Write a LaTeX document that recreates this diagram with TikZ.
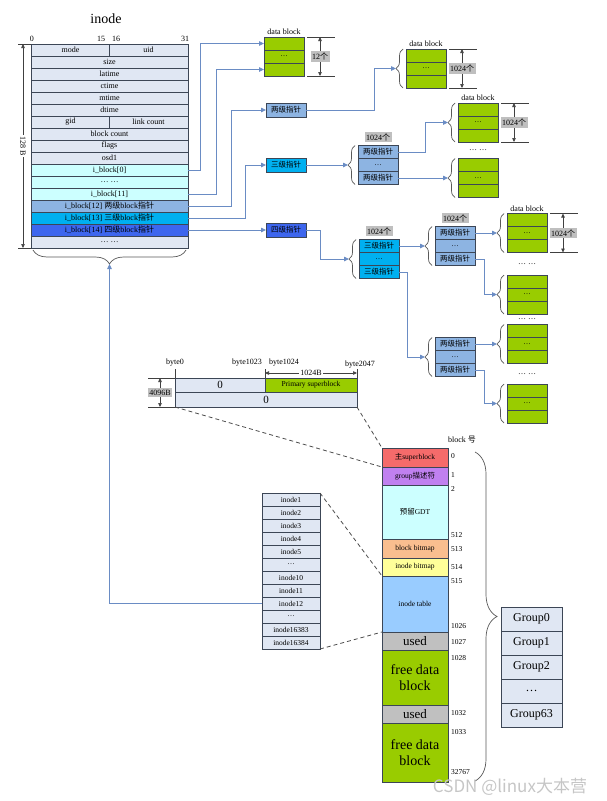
\documentclass[tikz,border=0pt]{standalone}
\usepackage{fontspec}
\setmainfont{Liberation Serif}
\newfontfamily\cjk{Noto Sans CJK SC}
\usepackage{tikz}
\usetikzlibrary{arrows.meta, calc, positioning, decorations.pathreplacing}
\usepackage{xcolor}

\definecolor{lav}{HTML}{E0E7F3}
\definecolor{icy}{HTML}{CCFFFF}
\definecolor{lb}{HTML}{8DB4E2}
\definecolor{cy}{HTML}{00B0F0}
\definecolor{dkb}{HTML}{3D66EE}
\definecolor{grn}{HTML}{99CC00}
\definecolor{edge}{HTML}{3C4656}
\definecolor{linkc}{HTML}{6A8CC4}
\definecolor{cntgray}{HTML}{BFBFBF}
\definecolor{supred}{HTML}{F56B6B}
\definecolor{gpurp}{HTML}{C080F0}
\definecolor{borange}{HTML}{F9BE8F}
\definecolor{iyellow}{HTML}{FFFF99}
\definecolor{itblue}{HTML}{99CCFF}
\definecolor{ugray}{HTML}{C0C0C0}

\begin{document}
\begin{tikzpicture}[x=1pt, y=-1pt,
    row/.style={draw=edge, line width=0.7pt, fill=lav, minimum width=157pt, minimum height=12pt, inner sep=0pt, outer sep=0pt, font=\fontsize{8}{9}\selectfont},
    cell/.style={draw=edge, line width=0.7pt, minimum width=40pt, minimum height=13pt, inner sep=0pt, outer sep=0pt, font=\fontsize{7.5}{8}\selectfont},
    gcell/.style={cell, fill=grn},
    pbox/.style={cell, minimum height=14pt},
    lbl/.style={inner sep=1pt, font=\fontsize{8}{9}\selectfont},
    cnt/.style={fill=cntgray, inner sep=1.5pt, font=\fontsize{8}{9}\selectfont},
    link/.style={draw=linkc, line width=0.8pt, -{Triangle[length=5pt, width=4.5pt]}},
    dimline/.style={draw=black!75, line width=0.6pt},
    dimarr/.style={draw=black!75, line width=0.6pt, {Triangle[length=4pt, width=3.5pt]}-{Triangle[length=4pt, width=3.5pt]}},
    lbrace/.style={draw=black!65, line width=0.7pt, decorate, decoration={brace, amplitude=7pt}},
    dashln/.style={draw=black!70, line width=0.8pt, dash pattern=on 4pt off 3pt},
    bcell/.style={draw=edge, line width=0.7pt, minimum width=66pt, inner sep=0pt, outer sep=0pt, align=center},
    num/.style={anchor=west, inner sep=0pt, font=\fontsize{7.5}{8}\selectfont}]

    \useasboundingbox (0,0) rectangle (606,801);

    % inode 结构
    \node[font=\fontsize{14}{14}\selectfont] (ttl) at (106,19) {inode};
    \node[lbl] (b0) at (32,39) {0};
    \node[lbl] (b15) at (101,39) {15};
    \node[lbl] (b16) at (116,39) {16};
    \node[lbl] (b31) at (185,39) {31};
    \foreach \t/\c [count=\i] in {{}/lav, size/lav, latime/lav, ctime/lav, mtime/lav, dtime/lav, {}/lav,
        block count/lav, flags/lav, osd1/lav, i\_block[0]/icy, \ldots\ \ldots/icy, i\_block[11]/icy,
        {i\_block[12] {\cjk 两级}block{\cjk 指针}}/lb, {i\_block[13] {\cjk 三级}block{\cjk 指针}}/cy,
        {i\_block[14] {\cjk 四级}block{\cjk 指针}}/dkb, \ldots\ \ldots/lav}
        \node[row, fill=\c] (r\i) at (109.5, 38+12*\i) {\t};
    \draw[edge, line width=0.7pt] (r1.north) -- (r1.south);
    \draw[edge, line width=0.7pt] (r7.north) -- (r7.south);
    \node[lbl] (mode) at ($(r1.center)+(-39,0)$) {mode};
    \node[lbl] (uid) at ($(r1.center)+(39,0)$) {uid};
    \node[lbl] (gid) at ($(r7.center)+(-39,0)$) {gid};
    \node[lbl] (lcount) at ($(r7.center)+(39,0)$) {link count};

    % 128 B
    \draw[dimline] (r1.north west) -- ++(-13,0);
    \draw[dimline] (r17.south west) -- ++(-13,0);
    \draw[dimarr] ([xshift=-8pt]r1.north west) -- ([xshift=-8pt]r17.south west)
        node[midway, rotate=-90, fill=white, lbl] {128 B};
    \draw[draw=black!65, line width=0.7pt, decorate, decoration={brace, amplitude=14pt, mirror}]
        ([xshift=2pt, yshift=-2pt]r17.south west) -- ([xshift=-2pt, yshift=-2pt]r17.south east);
    \coordinate (ttip) at ([yshift=-16pt]r17.south);

    % 指针
    \node[pbox, fill=lb] (lvl2) at (286,110) {\cjk 两级指针};
    \node[pbox, fill=cy] (lvl3) at (286,165) {\cjk 三级指针};
    \node[pbox, fill=dkb] (lvl4) at (286,230) {\cjk 四级指针};

    % data block
    \foreach \n/\x/\y in {A/284/56.5, B/426/68.5, C/478/122.5, D/478/178, E/527/233, F/527/294.5, G/527/344, H/527/403.5} {
        \node[gcell] (\n2) at (\x,\y) {\ldots};
        \node[gcell, above=0pt of \n2] (\n1) {};
        \node[gcell, below=0pt of \n2] (\n3) {};
    }
    \foreach \n/\x/\y/\c/\t in {P/378/165/lb/{\cjk 两级指针}, Q/379/259/cy/{\cjk 三级指针}, R/455/246/lb/{\cjk 两级指针}, S/455/357/lb/{\cjk 两级指针}} {
        \node[cell, fill=\c] (\n2) at (\x,\y) {\ldots};
        \node[cell, fill=\c, above=0pt of \n2] (\n1) {\t};
        \node[cell, fill=\c, below=0pt of \n2] (\n3) {\t};
    }
    \foreach \n in {B, C, D, E, F, G, H, P, Q, R, S} {
        \draw[lbrace] ([xshift=-3pt]\n3.south west) -- ([xshift=-3pt]\n1.north west);
        \coordinate (t\n) at ([xshift=-10pt]\n2.west);
    }
    \foreach \n in {A, B, C, E}
        \node[lbl, above=1pt of \n1] (lbl\n) {data block};
    \foreach \n in {P, Q, R}
        \node[cnt, above=3pt of \n1] (cnt\n) {1024{\cjk 个}};
    \foreach \n/\k in {A/12, B/1024, C/1024, E/1024} {
        \draw[dimline] ([xshift=3pt]\n1.north east) -- ++(28,0);
        \draw[dimline] ([xshift=3pt]\n3.south east) -- ++(28,0);
        \draw[dimarr] ([xshift=16pt]\n1.north east) -- ([xshift=16pt]\n3.south east)
            node[midway, cnt] {\k{\cjk 个}};
    }
    \node[lbl] (dots1) at (478,150) {\ldots\ \ldots};
    \node[lbl] (dots2) at (527,264) {\ldots\ \ldots};
    \node[lbl] (dots3) at (527,319) {\ldots\ \ldots};
    \node[lbl] (dots4) at (527,374) {\ldots\ \ldots};

    % 连线
    \draw[link] (r11.east) -- ++(12,0) |- (A1.west);
    \draw[link] (r13.east) -- ++(28,0) |- (A3.west);
    \draw[link] (r14.east) -- ++(43,0) |- (lvl2.west);
    \draw[link] (r15.east) -- ++(57,0) |- (lvl3.west);
    \draw[link] (r16.east) -- (lvl4.west);
    \draw[link] (lvl2.east) -- ++(68,0) |- (tB);
    \draw[link] (lvl3.east) -- (tP);
    \draw[link] (lvl4.east) -- ++(14,0) |- (tQ);
    \draw[link] (P1.east) -- ++(27,0) |- (tC);
    \draw[link] (P3.east) -- (tD);
    \draw[link] (Q1.east) -- (tR);
    \draw[link] (Q3.east) -- ++(8,0) |- (tS);
    \draw[link] (R1.east) -- (tE);
    \draw[link] (R3.east) -- ++(9,0) |- (tF);
    \draw[link] (S1.east) -- (tG);
    \draw[link] (S3.east) -- ++(9,0) |- (tH);

    % superblock
    \node[row, minimum width=90pt, minimum height=14pt, font=\fontsize{11}{12}\selectfont] (sb0) at (220,385) {0};
    \node[row, fill=grn, minimum width=92pt, minimum height=14pt, font=\fontsize{7.5}{8}\selectfont] (sbp) at (311,385) {Primary superblock};
    \node[row, minimum width=182pt, minimum height=15pt, font=\fontsize{11}{12}\selectfont] (sbz) at (266,399.5) {0};
    \node[lbl] (by0) at (175,363) {byte0};
    \node[lbl] (by1023) at (247,363) {byte1023};
    \node[lbl] (by1024) at (284,363) {byte1024};
    \node[lbl] (by2047) at (360,365) {byte2047};
    \draw[dimline] (sb0.north west) -- ++(0,-9);
    \draw[dimline] (sbp.north west) -- ++(0,-9);
    \draw[dimline] (sbp.north east) -- ++(0,-9);
    \draw[dimarr] ([yshift=5pt]sbp.north west) -- ([yshift=5pt]sbp.north east)
        node[midway, fill=white, lbl] {1024B};
    \draw[dimline] (sb0.north west) -- ++(-27,0);
    \draw[dimline] (sbz.south west) -- ++(-27,0);
    \draw[dimarr] ([xshift=-15pt]sb0.north west) -- ([xshift=-15pt]sbz.south west)
        node[midway, cnt] {4096B};

    % block group
    \foreach \n/\y/\h/\c/\s/\t in {sup/457.5/19/supred/7.5/{{\cjk 主}superblock}, gdesc/476/18/gpurp/7.5/{group{\cjk 描述符}},
        gdt/512/54/icy/7.5/{{\cjk 预留}GDT}, bbm/548.5/19/borange/7.5/block bitmap, ibm/567/18/iyellow/7.5/inode bitmap,
        itab/604/56/itblue/7.5/inode table, used1/641/18/ugray/13/used, free1/677.5/55/grn/14/{free data\\block},
        used2/714/18/ugray/13/used, free2/752.5/59/grn/14/{free data\\block}}
        \node[bcell, fill=\c, minimum height=\h pt, font=\fontsize{\s}{16}\selectfont] (\n) at (415,\y) {\t};
    \node[lbl] (bhao) at (462,440) {block {\cjk 号}};
    \foreach \t/\y in {0/456, 1/475, 2/489, 512/535, 513/549, 514/567, 515/581, 1026/626, 1027/642,
        1028/658, 1032/713, 1033/732, 32767/772}
        \node[num] (n\t) at (451,\y) {\t};
    \draw[draw=black!65, line width=0.7pt, decorate, decoration={brace, amplitude=22pt}] (475,452) -- (475,781);
    \coordinate (gtip) at (497,616.5);

    % dashed
    \draw[dashln] (sbz.south west) -- (gdesc.north west);
    \draw[dashln] (sbz.south east) -- (sup.north west);

    % inode table
    \foreach \t [count=\i] in {inode1, inode2, inode3, inode4, inode5, \ldots, inode10, inode11, inode12, \ldots, inode16383, inode16384}
        \node[row, minimum width=58pt, minimum height=13pt, font=\fontsize{7.5}{8}\selectfont] (il\i) at (291, 486.5+13*\i) {\t};
    \draw[dashln] (il1.north east) -- (itab.north west);
    \draw[dashln] (il12.south east) -- (itab.south west);
    \draw[link] (il9.west) -| (ttip);

    % groups
    \foreach \t [count=\i] in {Group0, Group1, Group2, \ldots, Group63}
        \node[row, minimum width=61pt, minimum height=24pt, font=\fontsize{12}{13}\selectfont] (g\i) at (531.5, 595+24*\i) {\t};

    \node[font=\cjk\fontsize{17}{17}\selectfont, text=gray!45] (wm) at (510,787) {CSDN @linux大本营};
\end{tikzpicture}
\end{document}
